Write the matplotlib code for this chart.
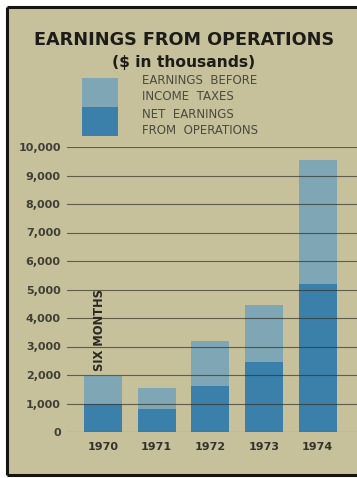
import matplotlib
matplotlib.use("Agg")
import matplotlib.pyplot as plt
from matplotlib.patches import Rectangle
from matplotlib.lines import Line2D

years = ["1970", "1971", "1972", "1973", "1974"]
pretax = [1950, 1550, 3200, 4450, 9550]
net = [1000, 800, 1600, 2450, 5200]
yticks = [0, 1000, 2000, 3000, 4000, 5000, 6000, 7000, 8000, 9000, 10000]
ytick_labels = ["0", "1,000", "2,000", "3,000", "4,000", "5,000",
                "6,000", "7,000", "8,000", "9,000", "10,000"]

W, H = 357, 478
BG = "#c6c09b"
LIGHT = "#7ea6b4"
DARK = "#3a80aa"
INK = "#2a2a24"

fig = plt.figure(figsize=(W / 100, H / 100), dpi=100)
fig.patch.set_facecolor("white")

def fx(px):
    return px / W

def fy(py):
    return 1 - py / H

# khaki panel with a dark frame on the left, top and bottom
fig.add_artist(Rectangle((fx(7), fy(475)), 1.0 - fx(7), fy(7) - fy(475),
                         transform=fig.transFigure, facecolor=BG, edgecolor="none", zorder=0))
for xs, ys in [([fx(7), fx(7)], [fy(7), fy(475)]),
               ([fx(7), 1.0], [fy(7), fy(7)]),
               ([fx(7), 1.0], [fy(475), fy(475)])]:
    fig.add_artist(Line2D(xs, ys, transform=fig.transFigure, color="#151512", lw=2.2,
                          solid_capstyle="butt", zorder=1))

# plotting area: 0 at y=432 px, 10,000 at y=147 px
ax = fig.add_axes([fx(67), fy(432), 1.0 - fx(67), fy(147) - fy(432)])
ax.set_facecolor("none")
ax.set_ylim(0, 10000)
ax.set_xlim(-0.67, 4.73)
for s in ax.spines.values():
    s.set_visible(False)

x = list(range(len(years)))
ax.bar(x, pretax, width=0.71, color=LIGHT, zorder=2)
ax.bar(x, net, width=0.71, color=DARK, zorder=3)

for v in yticks:
    ax.axhline(v, color="#33332a", lw=0.8, alpha=0.7, zorder=4)

ax.set_yticks(yticks)
ax.set_yticklabels(ytick_labels, fontsize=8, fontweight="bold", color="#3f3f36")
ax.tick_params(axis="y", length=0, pad=4.5)
ax.set_xticks(x)
ax.set_xticklabels(years, fontsize=8, fontweight="bold", color="#33332c")
ax.tick_params(axis="x", length=0, pad=7)

ax.text(-0.07, 2150, "SIX MONTHS", rotation=90, ha="center", va="bottom",
        fontsize=8.3, fontweight="bold", color=INK, zorder=5)

# title block
fig.text(fx(184), fy(40), "EARNINGS FROM OPERATIONS", ha="center", va="center",
         fontsize=12.7, fontweight="heavy", color="#1c1c18")
fig.text(fx(184), fy(63), "($ in thousands)", ha="center", va="center",
         fontsize=11.2, fontweight="bold", color="#1c1c18")

# legend swatches and labels
fig.add_artist(Rectangle((fx(82), fy(107)), fx(118) - fx(82), fy(78) - fy(107),
                         transform=fig.transFigure, facecolor=LIGHT, edgecolor="none"))
fig.add_artist(Rectangle((fx(82), fy(136)), fx(118) - fx(82), fy(107) - fy(136),
                         transform=fig.transFigure, facecolor=DARK, edgecolor="none"))
fig.text(fx(142), fy(89), "EARNINGS  BEFORE\nINCOME  TAXES", ha="left", va="center",
         fontsize=8.5, color="#4a4a40", linespacing=1.3)
fig.text(fx(142), fy(123), "NET  EARNINGS\nFROM  OPERATIONS", ha="left", va="center",
         fontsize=8.5, color="#4a4a40", linespacing=1.3)

fig.savefig("out.png", dpi=100, facecolor=fig.get_facecolor())
